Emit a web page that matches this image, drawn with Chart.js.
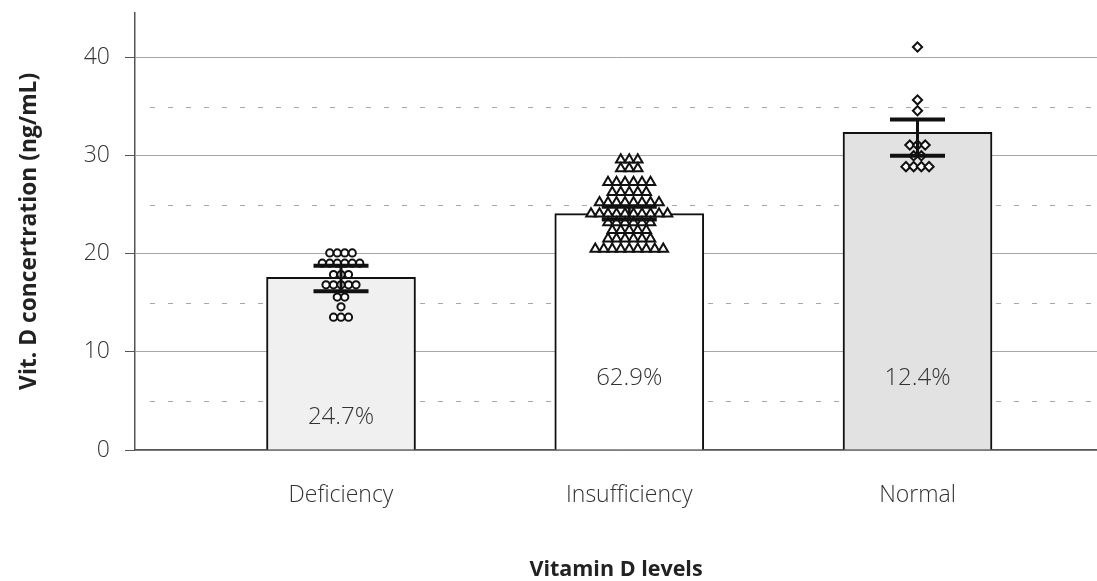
<!DOCTYPE html>
<html>
<head>
<meta charset="utf-8">
<script src="https://cdn.jsdelivr.net/npm/chart.js@4.4.1/dist/chart.umd.min.js"></script>
<style>
  html, body { margin: 0; background: #fff; }
  #wrap { width: 1097px; height: 581px; }
</style>
</head>
<body>
<div id="wrap"><canvas id="chart"></canvas></div>
<script>
const categories = ["Deficiency", "Insufficiency", "Normal"];
const meanValues = [17.6, 24.1, 32.4];
const errLow = [16.2, 23.5, 30.0];
const errHigh = [18.8, 24.8, 33.7];
const shareLabels = ["24.7%", "62.9%", "12.4%"];
const shareLabelY = [3.3, 7.3, 7.3];
const yTicks = [0, 10, 20, 30, 40];
const yMinorTicks = [5, 15, 25, 35];

const deficiencyValues = [
  20.1, 20.1, 20.1, 20.1,
  19.05, 19.05, 19.05, 19.05, 19.05, 19.05,
  17.9, 17.9, 17.9,
  16.85, 16.85, 16.85, 16.85, 16.85,
  15.6, 15.6,
  14.6,
  13.55, 13.55, 13.55,
];
const insufficiencyValues = [
  29.6, 29.6, 29.6,
  28.7, 28.7, 28.7,
  27.3, 27.3, 27.3, 27.3, 27.3, 27.3,
  26.3, 26.3, 26.3, 26.3, 26.3,
  25.25, 25.25, 25.25, 25.25, 25.25, 25.25, 25.25, 25.25,
  24.1, 24.1, 24.1, 24.1, 24.1, 24.1, 24.1, 24.1, 24.1, 24.1,
  23.2, 23.2, 23.2, 23.2, 23.2, 23.2,
  22.4, 22.4, 22.4, 22.4, 22.4,
  21.55, 21.55, 21.55, 21.55, 21.55, 21.55,
  20.5, 20.5, 20.5, 20.5, 20.5, 20.5, 20.5, 20.5, 20.5,
];
const normalValues = [
  41.1,
  35.7,
  34.6,
  31.1, 31.1, 31.1,
  30.0, 30.0,
  28.9, 28.9, 28.9, 28.9,
];

const FONT = "'Open Sans', 'Noto Sans', sans-serif";
const PX_PER_UNIT = 288.25;

// beeswarm: points sharing a value are spread side by side
function swarm(values, xPos, spacingPx) {
  const counts = {};
  values.forEach((v) => (counts[v] = (counts[v] || 0) + 1));
  const seen = {};
  return values.map((v) => {
    const i = (seen[v] = (seen[v] ?? -1) + 1);
    const off = ((i - (counts[v] - 1) / 2) * spacingPx) / PX_PER_UNIT;
    return { x: xPos + off, y: v };
  });
}

const pointDs = (data, style, radius) => ({
  type: "scatter",
  order: 1,
  data,
  pointStyle: style,
  pointRadius: radius,
  pointHoverRadius: radius,
  pointBackgroundColor: "#ffffff",
  pointBorderColor: "#111111",
  pointBorderWidth: 2,
});

const extras = {
  id: "extras",
  beforeDatasetsDraw(chart) {
    const { ctx, chartArea, scales } = chart;
    ctx.save();
    ctx.strokeStyle = "#a8a8a8";
    ctx.lineWidth = 1;
    ctx.setLineDash([5, 13]);
    yMinorTicks.forEach((v) => {
      const y = Math.round(scales.y.getPixelForValue(v)) + 0.5;
      ctx.beginPath();
      ctx.moveTo(chartArea.left + 15, y);
      ctx.lineTo(chartArea.right, y);
      ctx.stroke();
    });
    ctx.restore();
  },
  afterDatasetsDraw(chart) {
    const { ctx, scales } = chart;
    ctx.save();
    ctx.strokeStyle = "#111111";
    meanValues.forEach((m, i) => {
      const x = scales.x.getPixelForValue(i + 1);
      const lo = scales.y.getPixelForValue(errLow[i]);
      const hi = scales.y.getPixelForValue(errHigh[i]);
      ctx.lineWidth = 3;
      ctx.beginPath();
      ctx.moveTo(x, lo);
      ctx.lineTo(x, hi);
      ctx.stroke();
      ctx.lineWidth = 4;
      ctx.beginPath();
      ctx.moveTo(x - 27.5, lo);
      ctx.lineTo(x + 27.5, lo);
      ctx.moveTo(x - 27.5, hi);
      ctx.lineTo(x + 27.5, hi);
      ctx.stroke();
    });
    ctx.fillStyle = "#333333";
    ctx.font = `300 24px ${FONT}`;
    ctx.textAlign = "center";
    ctx.textBaseline = "middle";
    shareLabels.forEach((t, i) => {
      ctx.fillText(t, scales.x.getPixelForValue(i + 1), scales.y.getPixelForValue(shareLabelY[i]));
    });
    ctx.restore();
  },
};

new Chart(document.getElementById("chart"), {
  type: "bar",
  data: {
    datasets: [
      {
        type: "bar",
        order: 2,
        data: meanValues.map((v, i) => ({ x: i + 1, y: v })),
        backgroundColor: ["#eff0ef", "#ffffff", "#e1e2e1"],
        borderColor: "#111111",
        borderWidth: 2,
        barThickness: 149,
      },
      pointDs(swarm(deficiencyValues, 1, 7.5), "circle", 3.6),
      pointDs(swarm(insufficiencyValues, 2, 8.5), "triangle", 5.5),
      pointDs(swarm(normalValues, 3, 7.7), "rectRot", 4.6),
    ],
  },
  options: {
    responsive: true,
    maintainAspectRatio: false,
    animation: false,
    events: [],
    layout: { autoPadding: false, padding: { top: 12.7, right: 0, left: 0, bottom: 0 } },
    plugins: { legend: { display: false }, tooltip: { enabled: false } },
    scales: {
      x: {
        type: "linear",
        offset: false,
        min: 0.2853,
        max: 3.6227,
        afterBuildTicks: (s) => {
          s.ticks = categories.map((_, i) => ({ value: i + 1 }));
        },
        afterFit: (s) => {
          s.height = 131;
          s.paddingLeft = 0;
          s.paddingRight = 0;
        },
        grid: { display: false, drawTicks: false },
        border: { color: "#555555", width: 1.5 },
        ticks: {
          color: "#333333",
          font: { family: FONT, size: 23, weight: "300" },
          padding: 32,
          maxRotation: 0,
          callback: (v) => categories[v - 1] ?? "",
        },
        title: {
          display: true,
          text: "Vitamin D levels",
          color: "#222222",
          font: { family: FONT, size: 21.5, weight: "bold", lineHeight: 1 },
          padding: { top: 0, bottom: 0 },
        },
      },
      y: {
        min: 0,
        max: 44.6,
        afterBuildTicks: (s) => {
          s.ticks = yTicks.map((v) => ({ value: v }));
        },
        afterFit: (s) => {
          s.width = 135;
          s.paddingTop = 0;
          s.paddingBottom = 0;
        },
        grid: { color: "#a6a6a6", lineWidth: 1, tickLength: 10, tickColor: "#555555" },
        border: { color: "#555555", width: 1.5 },
        ticks: {
          color: "#333333",
          font: { family: FONT, size: 23, weight: "300" },
          padding: 15,
        },
        title: {
          display: true,
          text: "Vit. D concertration (ng/mL)",
          color: "#222222",
          font: { family: FONT, size: 22.8, weight: "bold", lineHeight: 1 },
          padding: { top: 18, bottom: 0 },
        },
      },
    },
  },
  plugins: [extras],
});
</script>
</body>
</html>
